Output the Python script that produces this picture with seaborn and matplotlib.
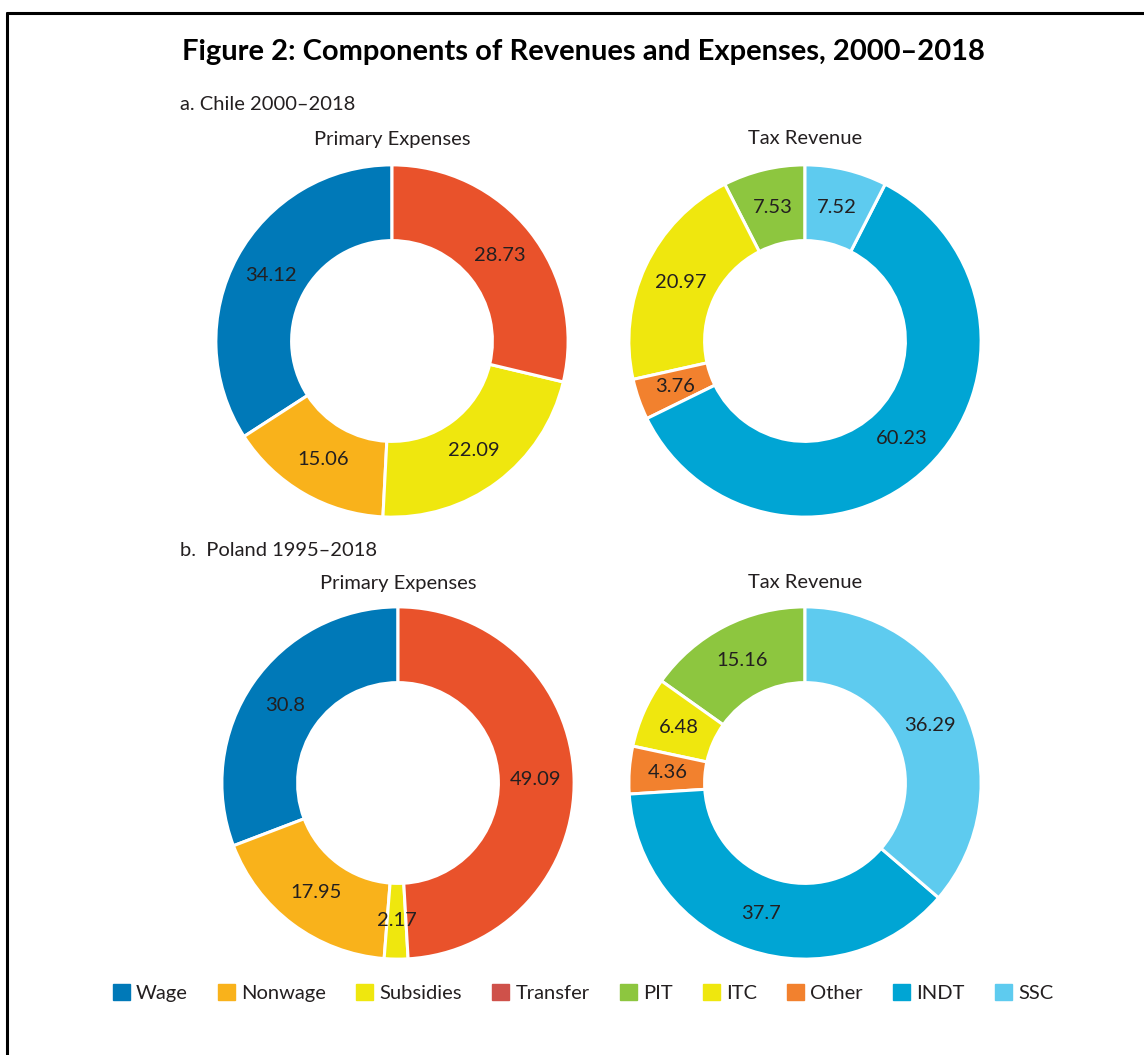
import numpy as np
import pandas as pd
import matplotlib
matplotlib.use("Agg")
import matplotlib.pyplot as plt
import matplotlib.patches as mpatches
import seaborn as sns

# data
exp_labels = ["Wage", "Nonwage", "Subsidies", "Transfer"]
tax_labels = ["PIT", "ITC", "Other", "INDT", "SSC"]
chile_exp = [34.12, 15.06, 22.09, 28.73]
chile_tax = [7.53, 20.97, 3.76, 60.23, 7.52]
poland_exp = [30.8, 17.95, 2.17, 49.09]
poland_tax = [15.16, 6.48, 4.36, 37.7, 36.29]
legend_labels = exp_labels + tax_labels

# colours
exp_colors = ["#0079B8", "#F9B21B", "#EFE70E", "#E9522B"]
tax_colors = ["#8DC63F", "#EFE70E", "#F2812E", "#00A5D4", "#5ECBEF"]
legend_colors = ["#0079B8", "#F9B21B", "#EFE70E", "#CF514A",
                 "#8DC63F", "#EFE70E", "#F2812E", "#00A5D4", "#5ECBEF"]

sns.set_theme(style="white")
plt.rcParams['font.family'] = ['Lato', 'DejaVu Sans']

W, H = 1144, 1055
fig = plt.figure(figsize=(W / 100, H / 100), dpi=100)


def px(x, y):
    return x / W, 1 - y / H


def donut(cx, cy, r, values, colors):
    ax = fig.add_axes([(cx - r) / W, 1 - (cy + r) / H, 2 * r / W, 2 * r / H])
    wedges, texts, autotexts = ax.pie(
        values, colors=colors, startangle=90, counterclock=True,
        radius=1, autopct=lambda p: "", pctdistance=0.78,
        wedgeprops=dict(width=0.43, edgecolor="white", linewidth=2.2))
    for at, v in zip(autotexts, values):
        at.set_text(f"{v:g}")
        at.set_fontsize(14.5)
        at.set_color("#231F20")
    ax.set_xlim(-1.005, 1.005)
    ax.set_ylim(-1.005, 1.005)
    ax.set_aspect("equal")
    ax.axis("off")
    return ax


# titles
fig.text(*px(583, 52), "Figure 2: Components of Revenues and Expenses, 2000\u20132018",
         ha="center", va="center", fontsize=21, fontweight="bold", color="black")
fig.text(*px(180, 104), "a. Chile 2000\u20132018", ha="left", va="center",
         fontsize=14.5, color="#231F20")
fig.text(*px(180, 551), "b.  Poland 1995\u20132018", ha="left", va="center",
         fontsize=14.5, color="#231F20")
fig.text(*px(392, 139), "Primary Expenses", ha="center", va="center",
         fontsize=14.5, color="#231F20")
fig.text(*px(805, 139), "Tax Revenue", ha="center", va="center",
         fontsize=14.5, color="#231F20")
fig.text(*px(398, 583), "Primary Expenses", ha="center", va="center",
         fontsize=14.5, color="#231F20")
fig.text(*px(805, 583), "Tax Revenue", ha="center", va="center",
         fontsize=14.5, color="#231F20")

# donuts
donut(392, 341, 177, chile_exp, exp_colors)
donut(805, 341, 177, chile_tax, tax_colors)
donut(398, 783, 177, poland_exp, exp_colors)
donut(805, 783, 177, poland_tax, tax_colors)

# legend
handles = [mpatches.Patch(color=c, label=l) for c, l in zip(legend_colors, legend_labels)]
fig.legend(handles=handles, loc="center", bbox_to_anchor=px(583, 993), ncol=9,
           frameon=False, fontsize=14.5, handlelength=0.85, handleheight=0.85,
           handletextpad=0.3, columnspacing=1.5, labelcolor="#231F20")

# frame
fig.add_artist(plt.Line2D([7 / W, 7 / W], [1 - 13 / H, 0], transform=fig.transFigure,
                          color="black", linewidth=2.2))
fig.add_artist(plt.Line2D([7 / W, 1], [1 - 13 / H, 1 - 13 / H], transform=fig.transFigure,
                          color="black", linewidth=2.2))

fig.savefig("out.png", dpi=100, facecolor="white")
